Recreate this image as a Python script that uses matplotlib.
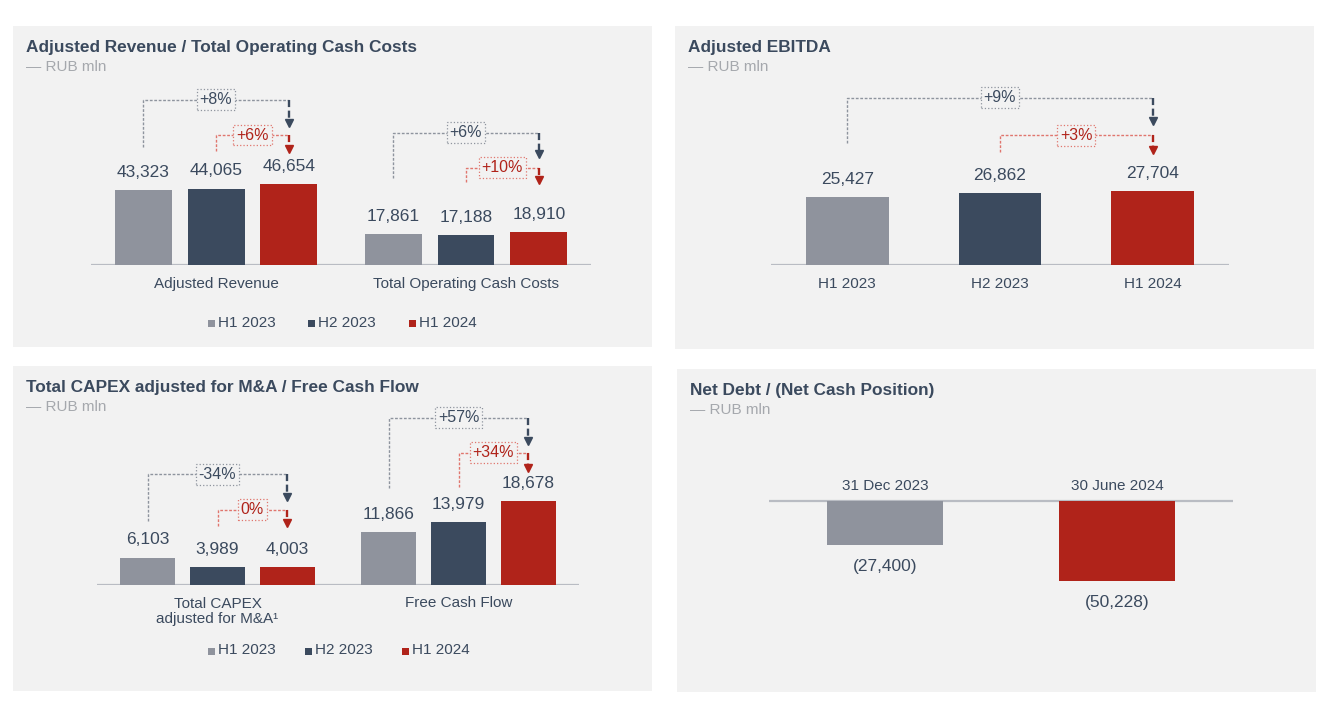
import matplotlib
matplotlib.use('Agg')
import matplotlib.pyplot as plt
from matplotlib.patches import Rectangle
from matplotlib.transforms import Affine2D, blended_transform_factory

plt.rcParams['font.family'] = ['Liberation Sans', 'DejaVu Sans']

# ---- data ----
periods = ['H1 2023', 'H2 2023', 'H1 2024']

rev_cats = ['Adjusted Revenue', 'Total Operating Cash Costs']
adj_revenue = [43323, 44065, 46654]
op_cash_costs = [17861, 17188, 18910]
rev_changes = [['+8%', '+6%'], ['+6%', '+10%']]

ebitda = [25427, 26862, 27704]
ebitda_changes = ['+9%', '+3%']

capex_cats = ['Total CAPEX\nadjusted for M&A\u00b9', 'Free Cash Flow']
capex = [6103, 3989, 4003]
fcf = [11866, 13979, 18678]
capex_changes = [['-34%', '0%'], ['+57%', '+34%']]

net_debt_dates = ['31 Dec 2023', '30 June 2024']
net_debt = [-27400, -50228]

# ---- style ----
BG = '#f2f2f2'
C_GRAY = '#8f939d'
C_NAVY = '#3b4a5e'
C_RED = '#b0231a'
TXT = '#3b4a5e'
SUB = '#a5a8ad'
BASE = '#b9bcc3'
LINE_GRAY = '#8e949e'
LINE_RED = '#e0766e'
colors = [C_GRAY, C_NAVY, C_RED]

W, H = 1332, 703
fig = plt.figure(figsize=(W / 100, H / 100), dpi=100, facecolor='white')
# pixel coords measured from the top-left corner
PX = Affine2D().scale(1 / W, -1 / H).translate(0, 1) + fig.transFigure


def panel(x0, y0, x1, y1, title):
    fig.add_artist(Rectangle((x0, y0), x1 - x0, y1 - y0, transform=PX,
                             facecolor=BG, edgecolor='none', zorder=-10))
    fig.text(x0 + 13.5, y0 + 21.5, title, transform=PX, fontsize=12.4,
             fontweight='bold', color=TXT, va='center')
    fig.text(x0 + 13.5, y0 + 41, '\u2014 RUB mln', transform=PX,
             fontsize=11, color=SUB, va='center')


def make_axes(x0, x1, y_top, y_bot, baseline, scale, nx):
    ax = fig.add_axes([x0 / W, 1 - y_bot / H, (x1 - x0) / W, (y_bot - y_top) / H])
    ax.set_facecolor('none')
    ax.axis('off')
    ax.set_xlim(-0.5, nx - 0.5)
    ax.set_ylim(-(y_bot - baseline) / scale, (baseline - y_top) / scale)
    ax.axhline(0, color=BASE, lw=1.6, zorder=1)
    return ax


def value_label(ax, x, v, below=False):
    txt = '({:,})'.format(-v) if v < 0 else '{:,}'.format(v)
    off = -16 if below else 12.8
    ax.annotate(txt, (x, v), xytext=(0, off), textcoords='offset points',
                ha='center', va='center', fontsize=12.5, color=TXT)


def bracket(ax, x_from, x_to, y_start, y_level, y_tip, label, red):
    tr = blended_transform_factory(ax.transData, PX)
    light = LINE_RED if red else LINE_GRAY
    dark = C_RED if red else C_NAVY
    ax.plot([x_from, x_from, x_to], [y_start, y_level, y_level], transform=tr,
            color=light, lw=1.0, ls=(0, (2, 1.2)), clip_on=False)
    ax.plot([x_to, x_to], [y_level, y_tip - 6], transform=tr,
            color=dark, lw=1.7, ls=(0, (3, 1.5)), clip_on=False)
    ax.plot([x_to], [y_tip - 3.5], marker='v', ms=6, color=dark, transform=tr,
            clip_on=False)
    ax.text((x_from + x_to) / 2, y_level, label, transform=tr, ha='center',
            va='center', fontsize=11.5, color=dark,
            bbox=dict(boxstyle='square,pad=0.18', fc=BG, ec=light, ls=':', lw=0.9))


def legend(y, xs):
    for x, c, lab in zip(xs, colors, periods):
        fig.add_artist(Rectangle((x, y - 2.3), 7, 7, transform=PX, facecolor=c,
                                 edgecolor='none'))
        fig.text(x + 10, y, lab, transform=PX, fontsize=11, color=TXT, va='center')


def grouped(ax, groups, cats, cat_y, width, step):
    tr = blended_transform_factory(ax.transData, PX)
    for g, vals in enumerate(groups):
        for i, v in enumerate(vals):
            x = g + (i - 1) * step
            ax.bar(x, v, width, color=colors[i], zorder=2)
            value_label(ax, x, v)
        ax.text(g, cat_y, cats[g], transform=tr, ha='center', va='center',
                fontsize=11, color=TXT, linespacing=1.1)


# ---- top left: revenue / opex ----
panel(13, 26, 652, 347, 'Adjusted Revenue / Total Operating Cash Costs')
ax1 = make_axes(91, 591, 60, 265.3, 265.3, 0.001737, 2)
step = 0.291
grouped(ax1, [adj_revenue, op_cash_costs], rev_cats, 284.3, 0.228, step)
bracket(ax1, -step, step, 146.7, 99.5, 126.7, rev_changes[0][0], False)
bracket(ax1, 0, step, 151, 135, 152.7, rev_changes[0][1], True)
bracket(ax1, 1 - step, 1 + step, 177.7, 132.7, 157.7, rev_changes[1][0], False)
bracket(ax1, 1, 1 + step, 182, 167.7, 183.7, rev_changes[1][1], True)
legend(322.7, [207.7, 308.3, 408.7])

# ---- top right: EBITDA ----
panel(675, 26, 1314, 349, 'Adjusted EBITDA')
ax2 = make_axes(771, 1229, 60, 265.3, 265.3, 0.00268, 3)
tr2 = blended_transform_factory(ax2.transData, PX)
ax2.bar(range(3), ebitda, 0.543, color=colors, zorder=2)
for i, v in enumerate(ebitda):
    value_label(ax2, i, v)
    ax2.text(i, 284, periods[i], transform=tr2, ha='center', va='center',
             fontsize=11, color=TXT)
bracket(ax2, 0, 2, 143, 97.7, 124, ebitda_changes[0], False)
bracket(ax2, 1, 2, 151.7, 135.3, 153.7, ebitda_changes[1], True)

# ---- bottom left: capex / FCF ----
panel(13, 366, 652, 691, 'Total CAPEX adjusted for M&A / Free Cash Flow')
ax3 = make_axes(97, 579, 400, 585, 585, 0.00448, 2)
step = 0.29
tr3 = blended_transform_factory(ax3.transData, PX)
for g, vals in enumerate([capex, fcf]):
    for i, v in enumerate(vals):
        x = g + (i - 1) * step
        ax3.bar(x, v, 0.228, color=colors[i], zorder=2)
        value_label(ax3, x, v)
ax3.text(0, 611.7, capex_cats[0], transform=tr3, ha='center', va='center',
         fontsize=11, color=TXT, linespacing=1.1)
ax3.text(1, 603.3, capex_cats[1], transform=tr3, ha='center', va='center',
         fontsize=11, color=TXT)
bracket(ax3, -step, step, 521, 474.3, 500, capex_changes[0][0], False)
bracket(ax3, 0, step, 525.7, 509.7, 526.7, capex_changes[0][1], True)
bracket(ax3, 1 - step, 1 + step, 488, 417.7, 444, capex_changes[1][0], False)
bracket(ax3, 1, 1 + step, 486.7, 452.7, 471, capex_changes[1][1], True)
legend(650, [207.5, 304.8, 401.8])

# ---- bottom right: net debt ----
panel(677, 369, 1316, 692, 'Net Debt / (Net Cash Position)')
ax4 = make_axes(769, 1233, 430, 640, 501.3, 0.00158, 2)
tr4 = blended_transform_factory(ax4.transData, PX)
ax4.bar(range(2), net_debt, 0.5, color=[C_GRAY, C_RED], zorder=2)
for i, v in enumerate(net_debt):
    value_label(ax4, i, v, below=True)
    ax4.text(i, 486, net_debt_dates[i], transform=tr4, ha='center',
             va='center', fontsize=11, color=TXT)

fig.savefig('out.png', dpi=100, facecolor='white')
